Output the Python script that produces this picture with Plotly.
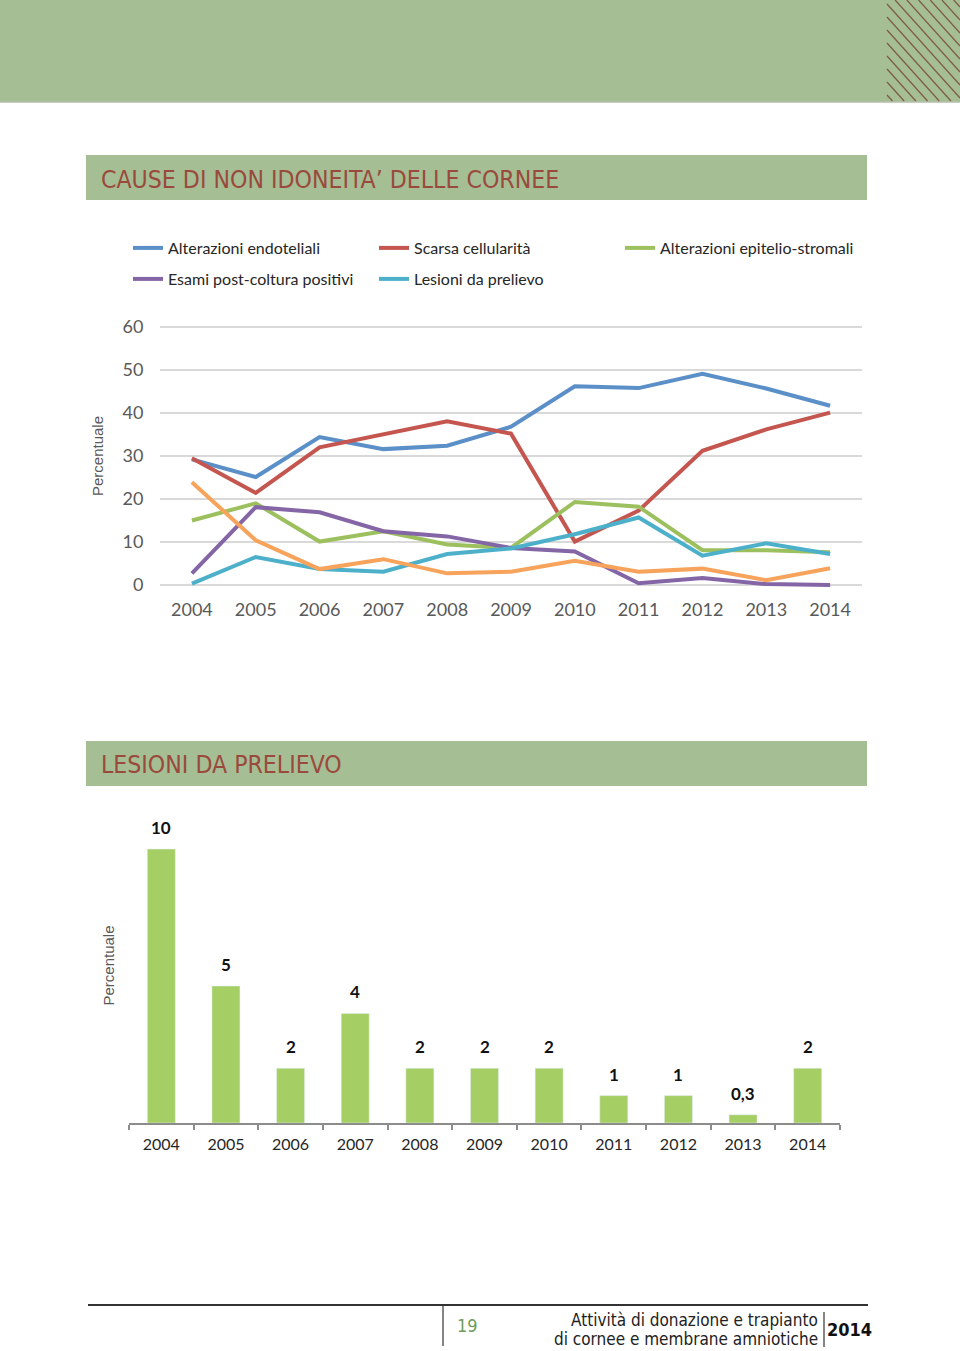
import plotly.graph_objects as go

W, H = 960, 1351
def px(x): return x / W
def py(y): return 1 - y / H

years = [2004, 2005, 2006, 2007, 2008, 2009, 2010, 2011, 2012, 2013, 2014]
year_labels = [str(y) for y in years]

alterazioni_endoteliali = [29.2, 25.1, 34.4, 31.6, 32.4, 36.8, 46.2, 45.8, 49.1, 45.7, 41.7]
scarsa_cellularita = [29.5, 21.4, 32.0, 35.1, 38.1, 35.2, 10.1, 17.3, 31.2, 36.2, 40.1]
alterazioni_epitelio = [15.0, 19.0, 10.1, 12.5, 9.4, 8.6, 19.3, 18.2, 8.1, 8.1, 7.6]
esami_post_coltura = [2.7, 18.1, 16.9, 12.5, 11.3, 8.6, 7.8, 0.4, 1.6, 0.2, 0.0]
lesioni_prelievo = [0.3, 6.5, 3.7, 3.1, 7.2, 8.5, 11.8, 15.7, 6.8, 9.7, 7.2]
altro = [23.9, 10.4, 3.7, 6.0, 2.7, 3.1, 5.6, 3.1, 3.8, 1.1, 3.9]

lesioni_bar = [10, 5, 2, 4, 2, 2, 2, 1, 1, 0.3, 2]
lesioni_bar_labels = ["10", "5", "2", "4", "2", "2", "2", "1", "1", "0,3", "2"]

series = [
    ("Alterazioni endoteliali", alterazioni_endoteliali, "#5B8FC8", "legend"),
    ("Scarsa cellularità", scarsa_cellularita, "#C4564F", "legend"),
    ("Alterazioni epitelio-stromali", alterazioni_epitelio, "#9DC05E", "legend"),
    ("Esami post-coltura positivi", esami_post_coltura, "#8466A6", "legend2"),
    ("Lesioni da prelievo", lesioni_prelievo, "#4DB0CB", "legend2"),
    ("Altro", altro, "#F7A35C", None),
]

BODY = "Lato, Calibri, sans-serif"
NARROW = "Liberation Sans Narrow, DejaVu Sans Condensed, Arial Narrow, sans-serif"

fig = go.Figure()
for name, vals, color, leg in series:
    fig.add_trace(go.Scatter(
        x=years, y=vals, mode="lines", name=name, showlegend=leg is not None,
        legend=leg if leg else "legend",
        line=dict(color=color, width=4), xaxis="x", yaxis="y"))

fig.add_trace(go.Bar(
    x=year_labels, y=lesioni_bar, marker=dict(color="#A5CF64"),
    showlegend=False, xaxis="x2", yaxis="y2"))

annotations = []
for i, (v, lab) in enumerate(zip(lesioni_bar, lesioni_bar_labels)):
    annotations.append(dict(x=i, y=v, xref="x2", yref="y2", text=lab,
                            showarrow=False, yanchor="bottom", yshift=9,
                            font=dict(family=BODY, size=17, color="#111111", weight="bold")))

annotations += [
    dict(x=px(99), y=py(180), xref="paper", yref="paper", xanchor="left", yanchor="middle",
         text="CAUSE DI NON IDONEITA’ DELLE CORNEE", showarrow=False,
         font=dict(family=NARROW, size=24.6, color="#9A4A3C")),
    dict(x=px(99), y=py(765), xref="paper", yref="paper", xanchor="left", yanchor="middle",
         text="LESIONI DA PRELIEVO", showarrow=False,
         font=dict(family=NARROW, size=24.6, color="#9A4A3C")),
    dict(x=px(467), y=py(1325), xref="paper", yref="paper", xanchor="center", yanchor="middle",
         text="19", showarrow=False, font=dict(family=NARROW, size=18, color="#6E9C5E")),
    dict(x=px(820), y=py(1320), xref="paper", yref="paper", xanchor="right", yanchor="middle",
         text="Attività di donazione e trapianto", showarrow=False,
         font=dict(family=NARROW, size=17, color="#222222")),
    dict(x=px(820), y=py(1339), xref="paper", yref="paper", xanchor="right", yanchor="middle",
         text="di cornee e membrane amniotiche", showarrow=False,
         font=dict(family=NARROW, size=17, color="#222222")),
    dict(x=px(849), y=py(1329), xref="paper", yref="paper", xanchor="center", yanchor="middle",
         text="<b>2014</b>", showarrow=False, font=dict(family=NARROW, size=18, color="#111111")),
]

shapes = [
    dict(type="rect", xref="paper", yref="paper", x0=0, x1=1, y0=py(102), y1=1,
         fillcolor="#A5BE94", line=dict(width=0), layer="below"),
    dict(type="line", xref="paper", yref="paper", x0=0, x1=1, y0=py(102), y1=py(102),
         line=dict(color="#B5BDAE", width=1.5)),
    dict(type="rect", xref="paper", yref="paper", x0=px(86), x1=px(867), y0=py(200), y1=py(155),
         fillcolor="#A5BE94", line=dict(width=0), layer="below"),
    dict(type="rect", xref="paper", yref="paper", x0=px(86), x1=px(867), y0=py(786), y1=py(741),
         fillcolor="#A5BE94", line=dict(width=0), layer="below"),
    dict(type="line", xref="paper", yref="paper", x0=px(88), x1=px(868), y0=py(1305), y1=py(1305),
         line=dict(color="#333333", width=2)),
    dict(type="line", xref="paper", yref="paper", x0=px(443), x1=px(443), y0=py(1305), y1=py(1346),
         line=dict(color="#333333", width=1.2)),
    dict(type="line", xref="paper", yref="paper", x0=px(824), x1=px(824), y0=py(1312), y1=py(1347),
         line=dict(color="#333333", width=1.2)),
]

# hatch lines in top-right corner
xl, xr, yt, yb = 887.0, 960.0, 0.0, 101.0
slope = 1.11
c = -100.0
while c < yb:
    pts = []
    x_at_top = xl + (yt - c) / slope
    x_at_bot = xl + (yb - c) / slope
    y_at_left = c
    y_at_right = c + slope * (xr - xl)
    if yt <= y_at_left <= yb: pts.append((xl, y_at_left))
    if xl <= x_at_top <= xr: pts.append((x_at_top, yt))
    if xl <= x_at_bot <= xr: pts.append((x_at_bot, yb))
    if yt <= y_at_right <= yb: pts.append((xr, y_at_right))
    if len(pts) >= 2:
        (ax, ay), (bx, by) = pts[0], pts[-1]
        shapes.append(dict(type="line", xref="paper", yref="paper",
                           x0=px(ax), y0=py(ay), x1=px(bx), y1=py(by),
                           line=dict(color="#7F5E42", width=1.3)))
    c += 13.0

legend_common = dict(orientation="h", xanchor="left", yanchor="middle",
                     entrywidth=201, entrywidthmode="pixels",
                     font=dict(family=BODY, size=16, color="#262626"),
                     itemwidth=30, traceorder="normal", bgcolor="rgba(0,0,0,0)")

fig.update_layout(
    width=W, height=H, margin=dict(l=0, r=0, t=0, b=0, pad=0, autoexpand=False),
    paper_bgcolor="white", plot_bgcolor="white",
    showlegend=True,
    legend=dict(x=px(128), y=py(248), **legend_common),
    legend2=dict(x=px(128), y=py(279), **legend_common),
    xaxis=dict(domain=[px(160), px(862)], range=[2003.5, 2014.5], tickmode="array",
               tickvals=years, ticktext=year_labels, showgrid=False, zeroline=False,
               showline=False, ticks="outside", ticklen=5, tickcolor="rgba(0,0,0,0)",
               tickfont=dict(family=BODY, size=18, color="#595959"), anchor="y", automargin=False),
    yaxis=dict(domain=[py(588.4), py(323.6)], range=[-0.8, 60.8], tickvals=[0, 10, 20, 30, 40, 50, 60],
               showgrid=True, gridcolor="#D9D9D9", gridwidth=1.6, zeroline=False,
               ticks="outside", ticklen=12, tickcolor="rgba(0,0,0,0)", automargin=False,
               tickfont=dict(family=BODY, size=18, color="#595959"), anchor="x",
               title=dict(text="Percentuale", standoff=15,
                          font=dict(family="Liberation Sans, Arial, sans-serif", size=15, color="#595959"))),
    xaxis2=dict(domain=[px(129), px(840)], type="category", tickson="boundaries",
                range=[-0.5, len(years) - 0.5], automargin=False,
                showline=True, linecolor="#8C8C8C", linewidth=1.5, ticks="outside", ticklen=5,
                ticklabelstandoff=6,
                tickcolor="#8C8C8C", tickwidth=1.5, showgrid=False, zeroline=False,
                tickfont=dict(family=BODY, size=16, color="#262626"), anchor="y2"),
    yaxis2=dict(domain=[py(1123), py(808)], range=[0, 11.5], showticklabels=False,
                showgrid=False, zeroline=False, showline=False, ticks="", anchor="x2",
                automargin=False,
                title=dict(text="Percentuale", standoff=9,
                           font=dict(family="Liberation Sans, Arial, sans-serif", size=15, color="#595959"))),
    bargap=0.567,
    annotations=annotations, shapes=shapes,
)

fig.write_html(
    "out.html",
    post_script=(
        "document.documentElement.style.margin='0';"
        "document.body.style.margin='0';document.body.style.padding='0';"
        "document.body.style.overflow='hidden';"
        "var d=document.getElementById('{plot_id}');"
        "d.style.position='absolute';d.style.left='0px';d.style.top='0px';"
    ),
)
